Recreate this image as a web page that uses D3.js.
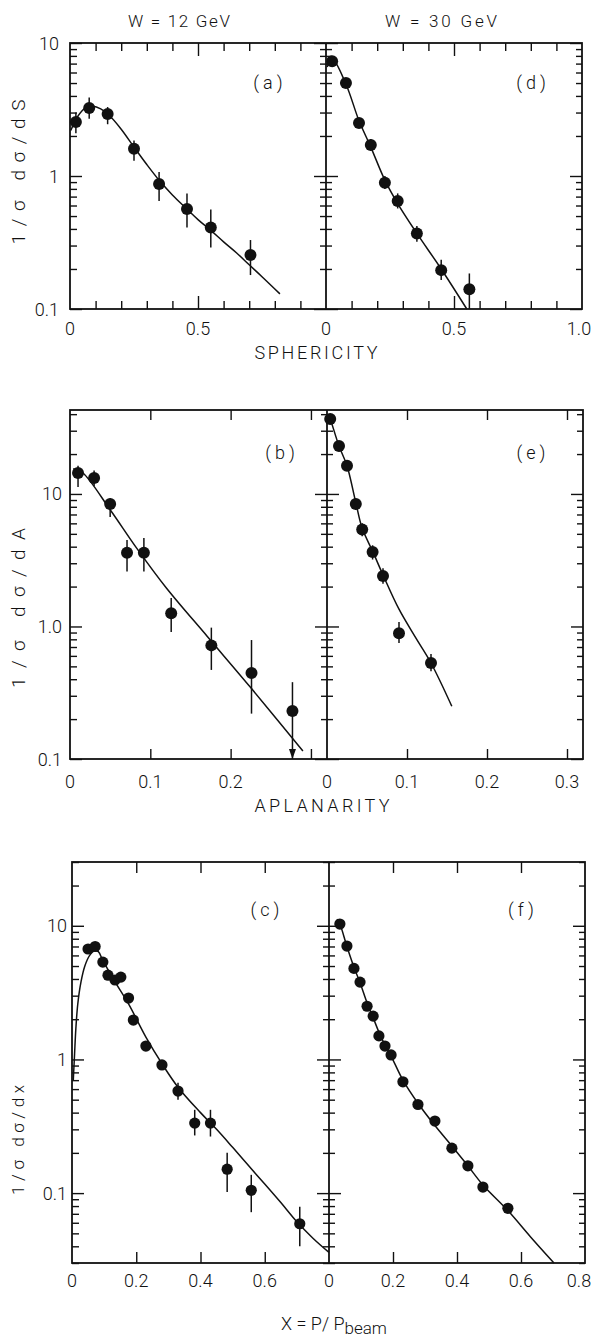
<!DOCTYPE html>
<html><head><meta charset="utf-8">
<script src="https://cdn.jsdelivr.net/npm/d3@7"></script>
<style>
body{margin:0;background:#fff}
svg{display:block}
text{font-family:Roboto,"DejaVu Sans",sans-serif;font-weight:300;fill:#111}
</style>
</head><body>
<svg id="c" width="595" height="1339"></svg>
<script>
// ---------- DATA ----------
// (a) W=12 GeV, sphericity
const aS   = [0.023,0.075,0.147,0.25,0.348,0.457,0.55,0.705];
const aV   = [2.55,3.25,2.92,1.6,0.87,0.565,0.41,0.255];
const aLo  = [2.1,2.7,2.45,1.3,0.65,0.41,0.29,0.18];
const aHi  = [3.0,3.9,3.3,1.85,1.07,0.74,0.56,0.33];
const aFitS= [0.003,0.03,0.06,0.09,0.12,0.15,0.2,0.25,0.3,0.35,0.4,0.45,0.5,0.55,0.6,0.65,0.7,0.75,0.82];
const aFitV= [2.2,2.8,3.25,3.35,3.2,2.9,2.25,1.65,1.22,0.92,0.72,0.58,0.47,0.39,0.32,0.265,0.215,0.175,0.13];
// (d) W=30 GeV, sphericity
const dS   = [0.024,0.078,0.129,0.175,0.23,0.28,0.355,0.45,0.56];
const dV   = [7.3,5.0,2.5,1.71,0.89,0.65,0.37,0.196,0.141];
const dLo  = [6.6,4.6,2.3,1.55,0.8,0.57,0.32,0.165,0.1];
const dHi  = [8.0,5.4,2.7,1.9,1.0,0.74,0.42,0.235,0.185];
const dFitS= [0.005,0.024,0.078,0.129,0.175,0.23,0.28,0.355,0.45,0.55];
const dFitV= [6.6,7.6,4.9,2.6,1.65,0.93,0.62,0.37,0.2,0.1];
// (b) W=12 GeV, aplanarity
const bA   = [0.01,0.03,0.05,0.071,0.092,0.126,0.176,0.226,0.277];
const bV   = [14.4,13.2,8.4,3.6,3.6,1.26,0.72,0.445,0.23];
const bLo  = [11.3,11.5,6.7,2.6,2.6,0.91,0.47,0.22,0.1];
const bHi  = [16.3,15.0,9.3,4.5,4.65,1.64,0.98,0.79,0.38];
const bFitA= [0.004,0.016,0.05,0.083,0.12,0.171,0.226,0.29];
const bFitV= [15.5,14.4,7.6,3.9,1.95,0.84,0.34,0.115];
// (e) W=30 GeV, aplanarity
const eA   = [0.004,0.015,0.025,0.036,0.044,0.057,0.07,0.09,0.13];
const eV   = [36.8,23,16.3,8.4,5.4,3.65,2.4,0.89,0.53];
const eLo  = [34,21,15,7.6,4.8,3.2,2.1,0.75,0.46];
const eHi  = [40,25,17.8,9.2,6.0,4.1,2.75,1.08,0.62];
const eFitA= [0.002,0.004,0.015,0.025,0.036,0.044,0.057,0.07,0.09,0.111,0.13,0.156];
const eFitV= [39,36.8,23,16.3,8.6,5.5,3.7,2.45,1.35,0.82,0.53,0.25];
// (c) W=12 GeV, x = p/pbeam
const cX   = [0.05,0.072,0.096,0.112,0.134,0.152,0.176,0.191,0.23,0.28,0.33,0.382,0.431,0.483,0.558,0.709];
const cV   = [6.7,7.0,5.35,4.27,3.93,4.13,2.88,1.97,1.26,0.91,0.58,0.334,0.334,0.151,0.105,0.059];
const cLo  = [6.3,6.6,5.0,4.0,3.7,3.9,2.7,1.85,1.17,0.84,0.5,0.27,0.265,0.102,0.072,0.04];
const cHi  = [7.1,7.4,5.7,4.55,4.2,4.4,3.1,2.1,1.36,0.99,0.67,0.42,0.42,0.2,0.137,0.079];
const cFitX= [0.004,0.008,0.012,0.018,0.028,0.04,0.055,0.07,0.082,0.096,0.134,0.176,0.23,0.28,0.33,0.4,0.45,0.5,0.55,0.6,0.65,0.7,0.75,0.8];
const cFitV= [0.7,1.1,1.7,2.6,3.8,5.0,6.0,6.5,6.4,5.5,3.8,2.6,1.47,0.93,0.62,0.40,0.30,0.22,0.16,0.117,0.085,0.061,0.046,0.036];
// (f) W=30 GeV, x = p/pbeam
const fX   = [0.034,0.056,0.078,0.097,0.119,0.138,0.156,0.175,0.194,0.231,0.278,0.331,0.384,0.434,0.481,0.559];
const fV   = [10.3,7.05,4.8,3.79,2.5,2.11,1.5,1.26,1.08,0.68,0.46,0.346,0.217,0.16,0.111,0.077];
const fFitX= [0.025,0.034,0.056,0.078,0.097,0.119,0.138,0.156,0.175,0.194,0.231,0.278,0.331,0.384,0.434,0.481,0.559,0.63,0.703];
const fFitV= [11.2,10.3,7.0,4.9,3.75,2.65,2.05,1.6,1.28,1.06,0.7,0.47,0.32,0.225,0.16,0.115,0.074,0.047,0.03];

// tick labels
const row0XLeft  = ["0","0.5"];
const row0XRight = ["0","0.5","1.0"];
const row1XLeft  = ["0","0.1","0.2"];
const row1XRight = ["0","0.1","0.2","0.3"];
const row2XLeft  = ["0","0.2","0.4","0.6"];
const row2XRight = ["0","0.2","0.4","0.6","0.8"];
const row0YLabels = ["0.1","1","10"];
const row1YLabels = ["0.1","1.0","10"];
const row2YLabels = ["0.1","1","10"];
const panelTags = ["(a)","(d)","(b)","(e)","(c)","(f)"];
const energyLabels = ["W = 12 GeV","W = 30 GeV"];

// ---------- DRAW ----------
const svg = d3.select("#c");

function yTickVals(dom){
  const maj=[],min=[];
  for(let e=-3;e<=3;e++){
    for(let k=1;k<=9;k++){
      const v=k*Math.pow(10,e);
      if(v>=dom[0]*0.999 && v<=dom[1]*1.001){ (k===1?maj:min).push(v); }
    }
  }
  return {maj,min};
}

function axisCall(g, gen, vals, len){
  g.call(gen.tickValues(vals).tickSize(len).tickFormat(""));
  g.select(".domain").remove();
  g.selectAll("line").attr("stroke","#111").attr("stroke-width",1.4);
}

function drawRow(cfg){
  const g = svg.append("g");
  const xL = d3.scaleLinear().domain(cfg.xDom).range([cfg.l,cfg.m]);
  const xR = d3.scaleLinear().domain(cfg.xDom).range([cfg.m,cfg.r]);
  const y  = d3.scaleLog().domain(cfg.yDom).range([cfg.bot,cfg.top]);
  // x ticks
  [xL,xR].forEach(x=>{
    const vals = cfg.xMinor.filter(v=>v>cfg.xDom[0]+1e-9 && v<cfg.xDom[1]-1e-9);
    const majv = cfg.xMajor.filter(v=>v>cfg.xDom[0]+1e-9 && v<cfg.xDom[1]-1e-9);
    axisCall(g.append("g").attr("transform",`translate(0,${cfg.bot})`), d3.axisTop(x), vals, cfg.xLen);
    axisCall(g.append("g").attr("transform",`translate(0,${cfg.top})`), d3.axisBottom(x), vals, cfg.xLen);
    axisCall(g.append("g").attr("transform",`translate(0,${cfg.bot})`), d3.axisTop(x), majv, cfg.xMajLen);
    axisCall(g.append("g").attr("transform",`translate(0,${cfg.top})`), d3.axisBottom(x), majv, cfg.xMajLen);
  });
  // y ticks
  const yt = yTickVals(cfg.yDom);
  axisCall(g.append("g").attr("transform",`translate(${cfg.l},0)`), d3.axisRight(y), yt.maj, 12);
  axisCall(g.append("g").attr("transform",`translate(${cfg.l},0)`), d3.axisRight(y), yt.min, 7);
  axisCall(g.append("g").attr("transform",`translate(${cfg.m},0)`), d3.axisRight(y), yt.maj, 12);
  axisCall(g.append("g").attr("transform",`translate(${cfg.m},0)`), d3.axisLeft(y), yt.maj, 12);
  axisCall(g.append("g").attr("transform",`translate(${cfg.m},0)`), d3.axisRight(y), yt.min, 6);
  axisCall(g.append("g").attr("transform",`translate(${cfg.m},0)`), d3.axisLeft(y), yt.min, 6);
  axisCall(g.append("g").attr("transform",`translate(${cfg.r},0)`), d3.axisLeft(y), yt.maj, 12);
  axisCall(g.append("g").attr("transform",`translate(${cfg.r},0)`), d3.axisLeft(y), yt.min, 6);
  // frame
  g.append("rect").attr("x",cfg.l).attr("y",cfg.top).attr("width",cfg.r-cfg.l).attr("height",cfg.bot-cfg.top)
    .attr("fill","none").attr("stroke","#111").attr("stroke-width",1.8);
  g.append("line").attr("x1",cfg.m).attr("x2",cfg.m).attr("y1",cfg.top).attr("y2",cfg.bot)
    .attr("stroke","#111").attr("stroke-width",1.8);
  // x tick labels (kept inside the page edge)
  const clampX = v => Math.min(v, 579);
  cfg.xLabL.forEach(t=>g.append("text").attr("x",xL(+t)).attr("y",cfg.bot+cfg.labDy)
    .attr("text-anchor","middle").attr("dominant-baseline","central").attr("font-size",18).text(t));
  cfg.xLabR.forEach(t=>g.append("text").attr("x",clampX(xR(+t))).attr("y",cfg.bot+cfg.labDy)
    .attr("text-anchor","middle").attr("dominant-baseline","central").attr("font-size",18).text(t));
  // y tick labels
  cfg.yLab.forEach(t=>g.append("text").attr("x",cfg.yLabX).attr("y",y(+t))
    .attr("text-anchor","end").attr("dominant-baseline","central").attr("font-size",18).text(t));
  // panels
  const line = d3.line().curve(d3.curveCatmullRom.alpha(0.5));
  cfg.panels.forEach((p,i)=>{
    const x = i===0?xL:xR;
    g.append("path").attr("d",line(p.fx.map((v,j)=>[x(v),y(p.fy[j])])))
      .attr("fill","none").attr("stroke","#111").attr("stroke-width",1.5);
    if(p.lo){
      p.px.forEach((v,j)=>{
        g.append("line").attr("x1",x(v)).attr("x2",x(v)).attr("y1",y(p.lo[j])).attr("y2",y(p.hi[j]))
          .attr("stroke","#111").attr("stroke-width",1.5);
      });
    }
    p.px.forEach((v,j)=>{
      g.append("circle").attr("cx",x(v)).attr("cy",y(p.py[j])).attr("r",cfg.r0).attr("fill","#111");
    });
    if(p.arrowIdx!==undefined){
      const cx=x(p.px[p.arrowIdx]), by=y(cfg.yDom[0]);
      g.append("path").attr("d",`M${cx-3.5},${by-10}L${cx+3.5},${by-10}L${cx},${by}Z`).attr("fill","#111");
    }
    g.append("text").attr("x",p.tagX).attr("y",cfg.tagY).attr("text-anchor","middle")
      .attr("dominant-baseline","central").attr("font-size",18).attr("letter-spacing",4).text(p.tag);
  });
  // y title
  g.append("text").attr("transform",`translate(18,${cfg.yTitleY}) rotate(-90)`)
    .attr("text-anchor","middle").attr("dominant-baseline","central").attr("font-size",cfg.yTitleSize)
    .attr("textLength",cfg.yTitleLen).attr("lengthAdjust","spacing").text(cfg.yTitle);
  return g;
}

drawRow({top:43,bot:309,l:70,m:326,r:582,xDom:[0,1],yDom:[0.1,10],
  xMinor:d3.range(0.1,1.0,0.1).map(v=>+v.toFixed(2)).filter(v=>v!==0.5),xMajor:[0.5],xLen:8,xMajLen:13,
  xLabL:row0XLeft,xLabR:row0XRight,labDy:19,yLab:row0YLabels,yLabX:59,r0:6,tagY:82,
  yTitle:"1/σ  dσ/dS",yTitleY:172,yTitleLen:145,yTitleSize:19,
  panels:[{px:aS,py:aV,lo:aLo,hi:aHi,fx:aFitS,fy:aFitV,tag:panelTags[0],tagX:270},
          {px:dS,py:dV,lo:dLo,hi:dHi,fx:dFitS,fy:dFitV,tag:panelTags[1],tagX:533}]});

drawRow({top:410,bot:759,l:70,m:327,r:583,xDom:[0,0.32],yDom:[0.1,43],
  xMinor:[0.1,0.2,0.3],xMajor:[],xLen:10,xMajLen:10,
  xLabL:row1XLeft,xLabR:row1XRight,labDy:22,yLab:row1YLabels,yLabX:62,r0:6,tagY:452,
  yTitle:"1/σ  dσ/dA",yTitleY:608,yTitleLen:160,yTitleSize:19,
  panels:[{px:bA,py:bV,lo:bLo,hi:bHi,fx:bFitA,fy:bFitV,tag:panelTags[2],tagX:282,arrowIdx:8},
          {px:eA,py:eV,lo:eLo,hi:eHi,fx:eFitA,fy:eFitV,tag:panelTags[3],tagX:533}]});

drawRow({top:862,bot:1263,l:72,m:329,r:585,xDom:[0,0.8],yDom:[0.03,30],
  xMinor:[0.2,0.4,0.6],xMajor:[],xLen:11,xMajLen:11,
  xLabL:row2XLeft,xLabR:row2XRight,labDy:17,yLab:row2YLabels,yLabX:67,r0:5.6,tagY:909,
  yTitle:"1/σ  dσ/dx",yTitleY:1140,yTitleLen:110,yTitleSize:17,
  panels:[{px:cX,py:cV,lo:cLo,hi:cHi,fx:cFitX,fy:cFitV,tag:panelTags[4],tagX:267},
          {px:fX,py:fV,fx:fFitX,fy:fFitV,tag:panelTags[5],tagX:523}]});

// energy headers
svg.append("text").attr("x",179).attr("y",21).attr("text-anchor","middle").attr("dominant-baseline","central")
  .attr("font-size",17).attr("textLength",102).attr("lengthAdjust","spacing").text(energyLabels[0]);
svg.append("text").attr("x",441).attr("y",21).attr("text-anchor","middle").attr("dominant-baseline","central")
  .attr("font-size",17).attr("textLength",112).attr("lengthAdjust","spacing").text(energyLabels[1]);
// x titles
svg.append("text").attr("x",316).attr("y",352).attr("text-anchor","middle").attr("dominant-baseline","central")
  .attr("font-size",18).attr("textLength",123).attr("lengthAdjust","spacing").text("SPHERICITY");
svg.append("text").attr("x",322).attr("y",805).attr("text-anchor","middle").attr("dominant-baseline","central")
  .attr("font-size",18).attr("textLength",135).attr("lengthAdjust","spacing").text("APLANARITY");
const xt = svg.append("text").attr("x",334).attr("y",1323).attr("text-anchor","middle").attr("dominant-baseline","central")
  .attr("font-size",18);
xt.append("tspan").text("X = P/ P");
xt.append("tspan").attr("dy",5).attr("font-size",17).text("beam");
</script>
</body></html>
